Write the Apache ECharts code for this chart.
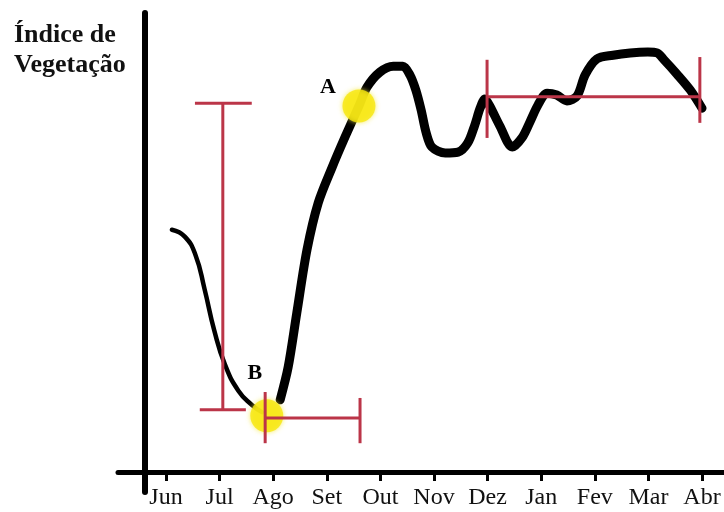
<!DOCTYPE html>
<html><head><meta charset="utf-8">
<script src="https://cdn.jsdelivr.net/npm/echarts@6/dist/echarts.min.js"></script>
<style>html,body{margin:0;padding:0;background:#fff}#c{width:724px;height:512px}</style>
</head><body><div id="c"></div>
<script>
var months = ['Jun','Jul','Ago','Set','Out','Nov','Dez','Jan','Fev','Mar','Abr'];
// thin descending part (month index, vegetation index 0-100)
var thinCurve = [[0.11,53.0],[0.35,51.5],[0.55,47.5],[0.72,40.0],[0.90,31.0],[1.10,23.5],[1.35,17.8],[1.60,14.7],[1.79,13.1]];
// thick rising part after B
var thickCurve = [[2.13,15.8],[2.28,23.0],[2.44,34.8],[2.63,48.6],[2.84,58.9],[3.10,66.7],[3.34,73.3],[3.60,80.1],[3.75,84.2],[3.99,87.5],[4.24,88.8],[4.42,88.8],[4.55,86.9],[4.66,83.6],[4.76,79.2],[4.85,74.4],[4.96,71.1],[5.21,69.8],[5.45,70.0],[5.63,72.0],[5.76,75.9],[5.86,79.6],[5.95,81.6],[6.04,80.1],[6.23,75.7],[6.46,71.1],[6.64,73.1],[6.79,76.6],[6.94,80.3],[7.11,82.9],[7.29,82.5],[7.48,81.2],[7.67,82.3],[7.82,86.9],[8.04,90.4],[8.34,91.2],[8.66,91.7],[8.99,91.9],[9.16,91.7],[9.29,90.2],[9.53,87.1],[9.78,83.6],[10.0,79.6]];
var pointNames = ['A','B'];
var pointValues = [[3.60,80.1],[1.88,12.3]];
// red range bars: [x1,y1,x2,y2]
var redSegments = [
  [1.06,80.7,1.06,13.6],[0.54,80.7,1.60,80.7],[0.63,13.6,1.49,13.6],
  [1.85,11.8,3.62,11.8],[1.85,17.5,1.85,6.3],[3.62,16.2,3.62,6.3],
  [5.99,82.1,9.96,82.1],[5.99,90.2,5.99,73.1],[9.96,90.8,9.96,76.4]
];
var yTitle = 'Índice de\nVegetação';

var chart = echarts.init(document.getElementById('c'), null, {renderer:'canvas'});
var serif = 'Liberation Serif';
var labelPos = [[-14.5,-2.5],[4.5,-25.5]];
var series = [
  {type:'line', xAxisIndex:1, yAxisIndex:1, data:thinCurve, smooth:0.5, symbol:'none', clip:false,
   lineStyle:{color:'#000', width:4.5, cap:'round', join:'round'}, z:3},
  {type:'line', xAxisIndex:1, yAxisIndex:1, data:thickCurve, smooth:0.3, symbol:'none', clip:false,
   lineStyle:{color:'#000', width:9, cap:'round', join:'round'}, z:3},
  {type:'scatter', xAxisIndex:1, yAxisIndex:1, clip:false, symbolSize:33, z:4,
   itemStyle:{color:'#f7e70d', shadowColor:'#f5ea40', shadowBlur:5},
   data: pointValues.map(function(p,i){
     return {value:p, name:pointNames[i], label:{show:true, formatter:pointNames[i], position:labelPos[i],
       align:'center', verticalAlign:'middle', opacity:1, textBorderWidth:0,
       fontFamily:serif, fontWeight:'bold', fontSize:22, color:'#000'}};
   })}
];
redSegments.forEach(function(s){
  series.push({type:'line', xAxisIndex:1, yAxisIndex:1, data:[[s[0],s[1]],[s[2],s[3]]], symbol:'none', clip:false,
    lineStyle:{color:'#bb3548', width:3}, z:5, silent:true});
});

chart.setOption({
  animation:false,
  backgroundColor:'#fff',
  title:{text:yTitle, left:9, top:15, textStyle:{fontFamily:serif, fontWeight:'bold', fontSize:26, lineHeight:30, color:'#111'}},
  grid:[
    {left:118, right:0, top:13, bottom:20},
    {left:166, right:22, top:15, bottom:40}
  ],
  xAxis:[
    {type:'value', gridIndex:0, min:-27, max:579, axisLine:{show:true, onZero:true, lineStyle:{color:'#000', width:5}},
     axisTick:{show:false}, axisLabel:{show:false}, splitLine:{show:false}},
    {type:'value', gridIndex:1, min:0, max:10, interval:1, axisLine:{show:false},
     axisTick:{show:true, length:9, lineStyle:{color:'#000', width:3}},
     axisLabel:{show:true, margin:14, fontFamily:serif, fontSize:24, color:'#111',
       formatter:function(v){return months[Math.round(v)] || '';}},
     splitLine:{show:false}}
  ],
  yAxis:[
    {type:'value', gridIndex:0, min:-20, max:459, axisLine:{show:true, onZero:true, lineStyle:{color:'#000', width:6, cap:'round'}},
     axisTick:{show:false}, axisLabel:{show:false}, splitLine:{show:false}},
    {type:'value', gridIndex:1, min:0, max:100, show:false, splitLine:{show:false}}
  ],
  series:series
});
</script></body></html>
